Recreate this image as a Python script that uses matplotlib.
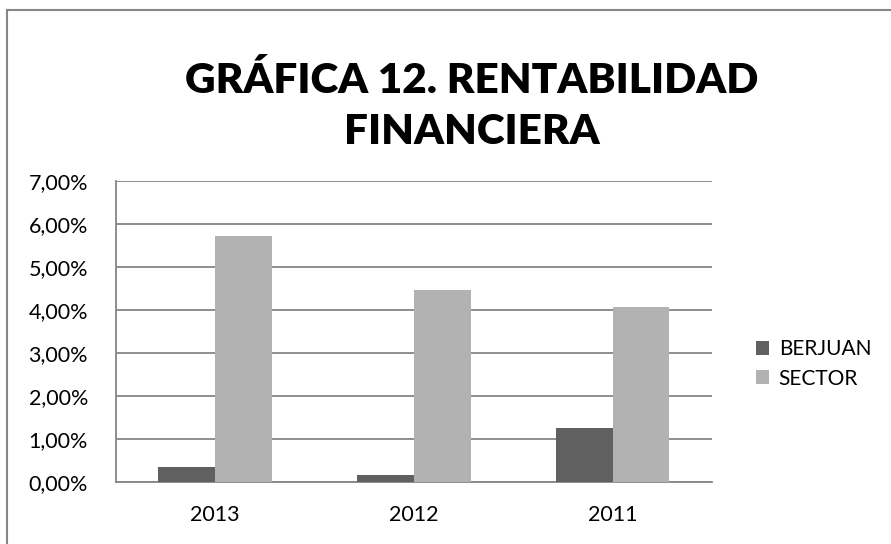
import matplotlib
matplotlib.use("Agg")
import matplotlib.pyplot as plt
import numpy as np
from matplotlib.lines import Line2D

categories = ["2013", "2012", "2011"]
berjuan = [0.35, 0.15, 1.26]
sector = [5.71, 4.46, 4.07]
series_names = ["BERJUAN", "SECTOR"]
yticks = [0, 1, 2, 3, 4, 5, 6, 7]
title = "GRÁFICA 12. RENTABILIDAD\nFINANCIERA"

plt.rcParams['font.family'] = ['Lato', 'DejaVu Sans']

W, H = 891, 544
fig = plt.figure(figsize=(W/100, H/100), dpi=100)
fig.patch.set_facecolor('white')

ax = fig.add_axes([115.7/W, 1-481.7/H, (712-115.7)/W, (481.7-180.7)/H])
x = np.arange(len(categories))
bw = 1/3.5
dark = '#606060'
light = '#b2b2b2'
ax.bar(x - bw/2, berjuan, bw, color=dark, label=series_names[0], zorder=3)
ax.bar(x + bw/2, sector, bw, color=light, label=series_names[1], zorder=3)

ax.set_xlim(-0.5, len(categories)-0.5)
ax.set_ylim(0, 7)
ax.set_yticks(yticks)
ax.set_yticklabels([f"{v:.2f}%".replace('.', ',') for v in yticks], fontsize=15.5)
ax.set_xticks(x)
ax.set_xticklabels(categories, fontsize=15.5)
ax.tick_params(axis='both', length=0, colors='black')
ax.tick_params(axis='y', pad=20)
ax.tick_params(axis='x', pad=17)
ax.yaxis.grid(True, color='#868686', linewidth=1.3, zorder=0)
for s in ['top', 'right']:
    ax.spines[s].set_visible(False)
ax.spines['left'].set_color('#868686')
ax.spines['bottom'].set_color('#868686')
ax.spines['left'].set_linewidth(1.3)
ax.spines['bottom'].set_linewidth(1.3)

fig.text(472/W, 1-106/H, title, ha='center', va='center', fontsize=30.4,
         fontweight='heavy', linespacing=1.44)

leg = fig.legend(loc='center left', bbox_to_anchor=(737/W, 1-364/H), frameon=False,
                 fontsize=15, handlelength=0.65, handleheight=0.65, handletextpad=0.45,
                 labelspacing=0.45)

fig.add_artist(Line2D([7/W, 7/W], [0, 1-10/H], color='#868686', linewidth=1.5))
fig.add_artist(Line2D([7/W, 1], [1-10/H, 1-10/H], color='#868686', linewidth=1.5))

fig.savefig('out.png', dpi=100)
